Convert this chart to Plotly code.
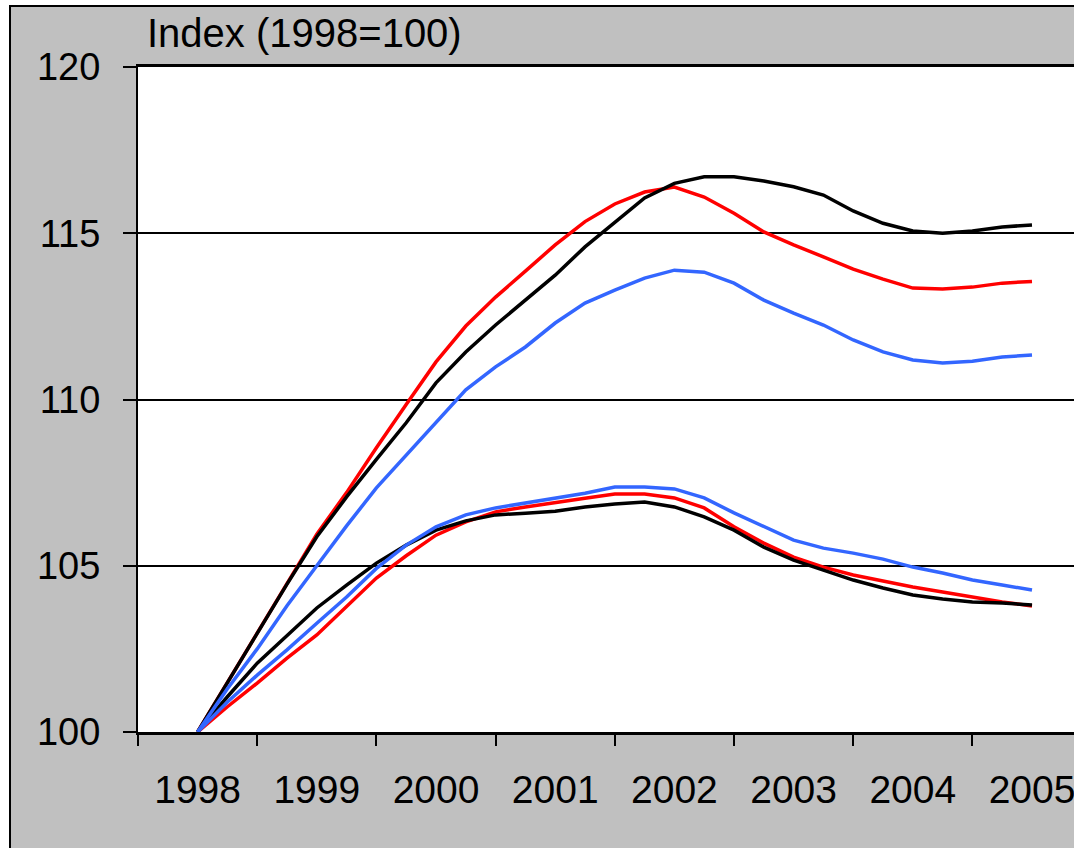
import plotly.graph_objects as go

# quarterly observations, 1998Q1 .. 2005Q1
quarters = [1998.00, 1998.25, 1998.50, 1998.75, 1999.00, 1999.25, 1999.50, 1999.75,
            2000.00, 2000.25, 2000.50, 2000.75, 2001.00, 2001.25, 2001.50, 2001.75,
            2002.00, 2002.25, 2002.50, 2002.75, 2003.00, 2003.25, 2003.50, 2003.75,
            2004.00, 2004.25, 2004.50, 2004.75, 2005.00]

years = [1998, 1999, 2000, 2001, 2002, 2003, 2004, 2005]
year_labels = ["1998", "1999", "2000", "2001", "2002", "2003", "2004", "2005"]
year_bounds = [1997.5, 1998.5, 1999.5, 2000.5, 2001.5, 2002.5, 2003.5, 2004.5, 2005.5]

upper_black = [100.0, 101.5, 103.0, 104.45, 105.87, 107.07, 108.2, 109.3, 110.5, 111.43,
               112.24, 112.99, 113.74, 114.59, 115.34, 116.06, 116.5, 116.7, 116.7, 116.57,
               116.4, 116.15, 115.67, 115.3, 115.07, 115.0, 115.07, 115.19, 115.25]
upper_red = [100.0, 101.5, 103.0, 104.5, 105.95, 107.2, 108.55, 109.85, 111.13, 112.21,
             113.08, 113.86, 114.65, 115.35, 115.88, 116.24, 116.39, 116.09, 115.6, 115.04,
             114.65, 114.29, 113.92, 113.62, 113.35, 113.32, 113.38, 113.5, 113.55]
upper_blue = [100.0, 101.3, 102.5, 103.8, 105.0, 106.2, 107.34, 108.33, 109.3, 110.29,
              110.98, 111.58, 112.3, 112.9, 113.29, 113.65, 113.89, 113.83, 113.5, 112.99,
              112.6, 112.24, 111.79, 111.43, 111.19, 111.1, 111.15, 111.28, 111.34]

lower_black = [100.0, 101.06, 102.07, 102.89, 103.73, 104.42, 105.08, 105.62, 106.07, 106.35,
               106.53, 106.58, 106.64, 106.77, 106.86, 106.92, 106.77, 106.47, 106.07, 105.56,
               105.17, 104.87, 104.57, 104.33, 104.12, 104.0, 103.91, 103.88, 103.82]
lower_red = [100.0, 100.76, 101.47, 102.22, 102.92, 103.77, 104.63, 105.3, 105.92, 106.32,
             106.62, 106.77, 106.89, 107.03, 107.16, 107.16, 107.04, 106.74, 106.17, 105.68,
             105.26, 104.96, 104.72, 104.54, 104.36, 104.21, 104.06, 103.91, 103.79]
lower_blue = [100.0, 100.9, 101.71, 102.47, 103.27, 104.06, 104.92, 105.62, 106.17, 106.53,
              106.74, 106.89, 107.03, 107.18, 107.37, 107.37, 107.31, 107.04, 106.59, 106.17,
              105.77, 105.53, 105.38, 105.2, 104.96, 104.78, 104.57, 104.42, 104.27]

RED = "#FF0000"
BLUE = "#3366FF"
BLACK = "#000000"
GREY = "#C0C0C0"
FONT = "Arial, Liberation Sans, sans-serif"

W, H = 1074, 848
PLOT_L, PLOT_R, PLOT_T, PLOT_B = 138, 1074, 67, 732


def px(p):
    return (p - PLOT_L) / (PLOT_R - PLOT_L)


def py(p):
    return (PLOT_B - p) / (PLOT_B - PLOT_T)


fig = go.Figure()
series = [
    (upper_red, RED), (lower_red, RED),
    (upper_black, BLACK), (lower_black, BLACK),
    (upper_blue, BLUE), (lower_blue, BLUE),
]
for values, colour in series:
    fig.add_trace(go.Scatter(x=quarters, y=values, mode="lines",
                             line=dict(color=colour, width=3.5), showlegend=False,
                             hoverinfo="skip"))

fig.update_xaxes(
    range=[1997.5, 1997.5 + (PLOT_R - PLOT_L) / 119.2],
    tickmode="array", tickvals=years, ticktext=year_labels, ticks="",
    minor=dict(tickmode="array", tickvals=year_bounds, ticks="outside",
               ticklen=11, tickwidth=2, tickcolor=BLACK, showgrid=False),
    showgrid=False, zeroline=False,
    showline=True, linecolor=BLACK, linewidth=3, mirror=True,
    tickfont=dict(family=FONT, size=39, color=BLACK),
    ticklabelstandoff=21, ticklabeloverflow="allow",
)
fig.update_yaxes(
    range=[100, 120], tickmode="array", tickvals=[100, 105, 110, 115, 120],
    ticks="outside", ticklen=13, tickwidth=2, tickcolor=BLACK,
    showgrid=True, gridcolor=BLACK, gridwidth=2, zeroline=False,
    showline=True, linecolor=BLACK, linewidth=2,
    tickfont=dict(family=FONT, size=38, color=BLACK),
    ticklabelstandoff=15,
)

fig.update_layout(
    width=W, height=H,
    margin=dict(l=PLOT_L, r=W - PLOT_R, t=PLOT_T, b=H - PLOT_B),
    paper_bgcolor=GREY, plot_bgcolor="white",
    shapes=[
        # white strips outside the grey chart frame
        dict(type="rect", xref="paper", yref="paper", x0=px(-20), x1=px(1200),
             y0=py(6), y1=py(-20), fillcolor="white", line=dict(width=0), layer="above"),
        dict(type="rect", xref="paper", yref="paper", x0=px(-20), x1=px(10),
             y0=py(900), y1=py(-20), fillcolor="white", line=dict(width=0), layer="above"),
        dict(type="rect", xref="paper", yref="paper", x0=px(10), x1=px(1200),
             y0=py(900), y1=py(6), fillcolor="rgba(0,0,0,0)",
             line=dict(color=BLACK, width=2), layer="above"),
    ],
    annotations=[
        dict(text="Index (1998=100)", xref="paper", yref="paper",
             x=px(145), y=py(33), xanchor="left", yanchor="middle", showarrow=False,
             font=dict(family=FONT, size=40, color=BLACK)),
    ],
)

# drop the default page margin so the figure fills the window exactly
fig.write_html("out.html", config={"displayModeBar": False},
               post_script="document.body.style.margin = '0';")
